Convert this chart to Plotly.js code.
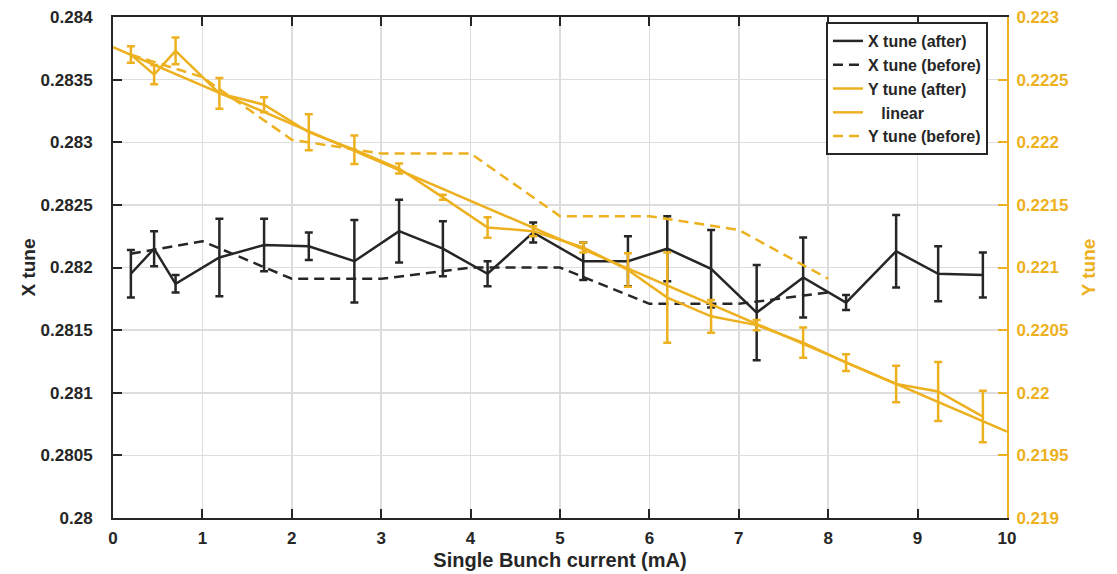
<!DOCTYPE html>
<html>
<head>
<meta charset="utf-8">
<script src="https://cdn.plot.ly/plotly-3.0.1.min.js"></script>
<style>html,body{margin:0;padding:0;background:#fff;}#chart{width:1117px;height:574px;}</style>
</head>
<body>
<div id="chart"></div>
<script>
// Single bunch current (mA) for "after" measurements
const currentAfter = [0.2, 0.46, 0.7, 1.19, 1.69, 2.19, 2.7, 3.2, 3.69, 4.19, 4.7, 5.26, 5.76, 6.2, 6.69, 7.2, 7.72, 8.2, 8.76, 9.23, 9.73];
const xTuneAfter = [0.28195, 0.28215, 0.28187, 0.28208, 0.28218, 0.28217, 0.28205, 0.28229, 0.28215, 0.28195, 0.28228, 0.28205, 0.28205, 0.28215, 0.28199, 0.28164, 0.28192, 0.28172, 0.28213, 0.28195, 0.28194];
const xTuneErr = [0.00019, 0.00014, 0.00007, 0.00031, 0.00021, 0.00011, 0.00033, 0.00025, 0.00022, 0.0001, 0.00008, 0.00015, 0.0002, 0.00026, 0.00031, 0.00038, 0.00032, 0.00006, 0.00029, 0.00022, 0.00018];
const yTuneAfter = [0.22270, 0.22254, 0.22273, 0.22239, 0.22230, 0.22208, 0.22194, 0.22179, 0.22156, 0.22132, 0.22129, 0.22116, 0.22098, 0.22076, 0.22061, 0.22054, 0.22040, 0.22024, 0.22007, 0.22001, 0.21981];
const yTuneErr = [0.000066, 0.000077, 0.000107, 0.000122, 0.00006, 0.000144, 0.000113, 0.00004, 0.00002, 0.000082, 0.00004, 0.00004, 0.000133, 0.00036, 0.00013, 0.00004, 0.00012, 0.000067, 0.000146, 0.000235, 0.000205];

// "before" measurements
const currentBefore = [0.2, 1, 2, 3, 4, 5, 6, 7, 8];
const xTuneBefore = [0.28211, 0.28221, 0.28191, 0.28191, 0.28200, 0.28200, 0.28171, 0.28171, 0.28180];
const yTuneBefore = [0.22270, 0.22252, 0.22202, 0.22191, 0.22191, 0.22141, 0.22141, 0.22130, 0.22091];

// linear fit of Y tune
const linearX = [0, 10];
const linearY = [0.22276, 0.21969];

// tick labels
const xTicks = [0, 1, 2, 3, 4, 5, 6, 7, 8, 9, 10];
const leftTicks = [0.28, 0.2805, 0.281, 0.2815, 0.282, 0.2825, 0.283, 0.2835, 0.284];
const leftTickText = ['0.28', '0.2805', '0.281', '0.2815', '0.282', '0.2825', '0.283', '0.2835', '0.284'];
const rightTicks = [0.219, 0.2195, 0.22, 0.2205, 0.221, 0.2215, 0.222, 0.2225, 0.223];
const rightTickText = ['0.219', '0.2195', '0.22', '0.2205', '0.221', '0.2215', '0.222', '0.2225', '0.223'];

const BLACK = '#262626';
const GOLD = '#EDB120';
const FONT = 'Arial, "Liberation Sans", Helvetica, sans-serif';

const traces = [
  {
    x: currentAfter, y: xTuneAfter, name: 'X tune (after)', type: 'scatter', mode: 'lines',
    line: {color: BLACK, width: 2.5},
    error_y: {type: 'data', array: xTuneErr, visible: true, color: BLACK, thickness: 2.5, width: 4},
    yaxis: 'y'
  },
  {
    x: currentBefore, y: xTuneBefore, name: 'X tune (before)', type: 'scatter', mode: 'lines',
    line: {color: BLACK, width: 2.5, dash: '10px,6px'},
    yaxis: 'y'
  },
  {
    x: currentAfter, y: yTuneAfter, name: 'Y tune (after)', type: 'scatter', mode: 'lines',
    line: {color: GOLD, width: 2.5},
    error_y: {type: 'data', array: yTuneErr, visible: true, color: GOLD, thickness: 2.5, width: 4},
    yaxis: 'y2'
  },
  {
    x: linearX, y: linearY, name: '\u00a0\u00a0\u00a0linear', type: 'scatter', mode: 'lines',
    line: {color: GOLD, width: 2.5},
    yaxis: 'y2'
  },
  {
    x: currentBefore, y: yTuneBefore, name: 'Y tune (before)', type: 'scatter', mode: 'lines',
    line: {color: GOLD, width: 2.5, dash: '10px,6px'},
    yaxis: 'y2'
  }
];

const layout = {
  width: 1117, height: 574,
  paper_bgcolor: '#ffffff', plot_bgcolor: '#ffffff',
  margin: {l: 113, r: 110, t: 17, b: 56, pad: 0},
  font: {family: FONT, color: BLACK, size: 17, weight: 'bold'},
  showlegend: true,
  legend: {
    x: 0.7975, xanchor: 'left', y: 0.99, yanchor: 'top',
    bgcolor: '#ffffff', bordercolor: BLACK, borderwidth: 2,
    font: {family: FONT, size: 16, color: BLACK, weight: 'bold'},
    tracegroupgap: 0
  },
  xaxis: {
    range: [0, 10], tickvals: xTicks, ticks: 'inside', ticklen: 9, tickwidth: 2, tickcolor: BLACK,
    showline: true, linecolor: BLACK, linewidth: 2, mirror: 'ticks',
    showgrid: true, gridcolor: '#dddddd', gridwidth: 1.5, zeroline: false,
    tickfont: {family: FONT, size: 17, color: BLACK, weight: 'bold'},
    ticklabelstandoff: 4,
    title: {text: 'Single Bunch current (mA)', font: {family: FONT, size: 20, color: BLACK, weight: 'bold'}, standoff: 6},
    automargin: false
  },
  yaxis: {
    range: [0.28, 0.284], tickvals: leftTicks, ticktext: leftTickText,
    ticks: 'inside', ticklen: 9, tickwidth: 2, tickcolor: BLACK,
    showline: true, linecolor: BLACK, linewidth: 2,
    showgrid: true, gridcolor: '#dddddd', gridwidth: 1.5, zeroline: false,
    tickfont: {family: FONT, size: 17, color: BLACK, weight: 'bold'},
    ticklabelstandoff: 15,
    title: {text: 'X tune', font: {family: FONT, size: 19, color: BLACK, weight: 'bold'}, standoff: 0},
    automargin: false
  },
  yaxis2: {
    range: [0.219, 0.223], tickvals: rightTicks, ticktext: rightTickText,
    overlaying: 'y', side: 'right',
    ticks: 'inside', ticklen: 9, tickwidth: 2, tickcolor: GOLD,
    showline: true, linecolor: GOLD, linewidth: 2,
    showgrid: false, zeroline: false,
    tickfont: {family: FONT, size: 17, color: GOLD, weight: 'bold'},
    ticklabelstandoff: 4,
    title: {text: 'Y tune', font: {family: FONT, size: 19, color: GOLD, weight: 'bold'}, standoff: 14},
    automargin: false
  }
};

Plotly.newPlot('chart', traces, layout, {staticPlot: true, displayModeBar: false});
</script>
</body>
</html>
